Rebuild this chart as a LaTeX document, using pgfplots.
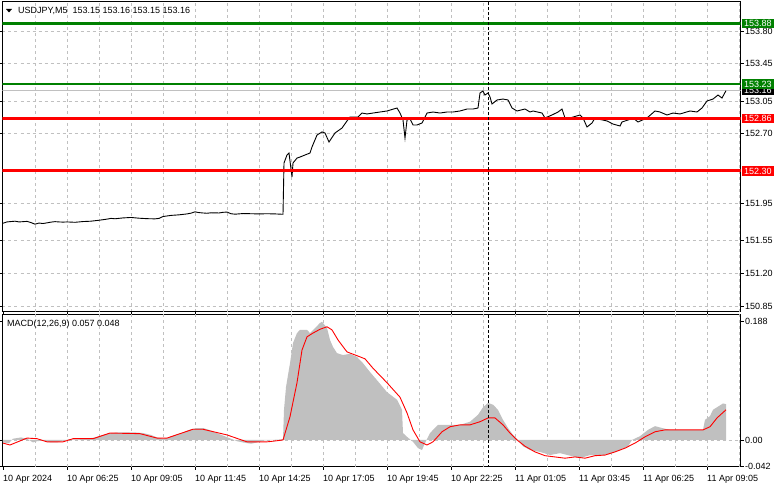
\documentclass[border=0pt]{standalone}
\usepackage{fontspec}
\setmainfont{Liberation Sans}
\usepackage{pgfplots}
\usepackage{pgfplotstable}
\pgfplotsset{compat=1.18}

\definecolor{gridc}{HTML}{C0C0C0}
\definecolor{mtgreen}{HTML}{008000}
\definecolor{mtred}{HTML}{FF0000}

% price, one row every few M5 bars (bar index, close)
\pgfplotstableread{
i v
0 151.738
2 151.752
4 151.756
6 151.760
8 151.752
10 151.755
12 151.758
14 151.745
16 151.728
18 151.740
20 151.735
22 151.742
24 151.750
26 151.755
28 151.752
30 151.750
32 151.752
34 151.750
36 151.748
38 151.752
40 151.756
44 151.760
48 151.770
52 151.782
54 151.790
56 151.786
60 151.795
64 151.800
66 151.796
68 151.792
72 151.787
76 151.785
78 151.790
80 151.810
84 151.822
88 151.828
92 151.838
94 151.846
96 151.860
98 151.852
100 151.848
102 151.845
104 151.850
108 151.848
110 151.855
112 151.858
114 151.840
116 151.835
120 151.842
124 151.840
128 151.838
132 151.840
136 151.838
140 151.834
140.5 152.384
142 152.470
143 152.491
144.5 152.234
145 152.384
147 152.437
148.5 152.448
151 152.470
153.5 152.491
154.5 152.556
157 152.684
159.5 152.717
161 152.706
163 152.609
166 152.706
169.5 152.759
172 152.835
173.5 152.877
177.5 152.877
179.5 152.920
182 152.910
185 152.920
188.5 152.931
192 152.942
197 152.974
198.5 152.920
200 152.845
201 152.652
202 152.845
203.5 152.856
205 152.792
207 152.792
209.5 152.813
212 152.920
215 152.931
218.5 152.920
222 152.931
225 152.931
228.5 152.942
232 152.963
235 152.963
237.5 152.974
238.5 153.135
240 153.156
241 153.113
242.5 153.135
243.5 153.092
244.5 153.017
247 153.060
250 153.070
252.5 153.060
254.5 152.974
257 152.942
261 152.963
263.5 152.931
265 152.942
269.5 152.920
271 152.867
274.5 152.899
277.5 152.931
279.5 152.963
281 152.867
283.5 152.867
285 152.877
288.5 152.899
290 152.867
292 152.770
294.5 152.813
296 152.867
297.5 152.856
302 152.835
305 152.802
308.5 152.781
309.5 152.824
312.5 152.845
315 152.867
317.5 152.824
322 152.867
326 152.942
328.5 152.931
332 152.899
335 152.920
338.5 152.910
343.5 152.942
347 152.931
349.5 152.974
352 153.049
355 153.070
357.5 153.113
359.5 153.081
361.5 153.160
}\price

% MACD histogram
\pgfplotstableread{
i h
0 -0.004
3 -0.005
5 0.002
7 0.003
9 0.004
12 0.002
15 -0.004
17 -0.002
20 -0.001
24 -0.004
27 -0.004
30 -0.001
33 0.001
38 0.001
42 0.002
46 0.004
50 0.008
54 0.011
58 0.012
62 0.012
66 0.012
70 0.011
74 0.008
77 0.004
80 0.002
83 0.004
86 0.008
90 0.012
94 0.017
97 0.019
100 0.019
103 0.016
106 0.012
110 0.007
114 0.002
117 -0.002
120 -0.004
124 -0.006
127 -0.004
130 -0.001
134 0.000
140 0.001
140.5 0.048
141.5 0.084
143.5 0.122
145 0.154
147 0.170
148.5 0.175
152 0.175
153.5 0.170
156 0.178
158.5 0.186
159.5 0.188
162 0.178
163.5 0.159
165 0.148
167 0.138
170 0.135
173.5 0.137
177 0.132
180 0.122
183.5 0.108
187 0.095
192 0.076
197 0.064
199.5 0.048
200 0.011
202 0.005
205 -0.003
207.5 -0.013
209.5 -0.016
211 -0.005
213.5 0.011
217.5 0.024
225 0.024
228.5 0.024
233.5 0.029
237.5 0.040
240 0.052
242.5 0.059
245 0.056
247.5 0.048
250 0.032
252.5 0.019
255 0.008
257.5 0.000
260 -0.010
263.5 -0.016
268.5 -0.019
273.5 -0.024
278.5 -0.021
283.5 -0.025
288.5 -0.029
293.5 -0.024
298.5 -0.025
303.5 -0.022
308.5 -0.016
312.5 -0.010
314.5 0.000
318.5 0.006
322.5 0.016
326 0.022
329.5 0.019
333.5 0.016
338.5 0.016
344 0.016
350 0.016
351 0.032
353.5 0.038
355 0.048
357 0.052
360 0.058
361.5 0.057
}\hist

% MACD signal line
\pgfplotstableread{
i s
0 -0.005
3.5 -0.008
12 0.003
17 0.002
22 -0.003
30 -0.003
35 0.002
45 0.002
53.5 0.011
68.5 0.010
77 0.003
82 0.003
95 0.017
100 0.017
112 0.008
122 -0.003
132 -0.003
135 -0.002
140 0.000
143.5 0.037
147 0.091
149.5 0.143
152 0.164
155 0.170
158.5 0.176
162 0.180
164.5 0.175
167.5 0.159
172 0.140
177 0.134
181 0.129
185 0.114
192 0.091
198.5 0.068
202 0.043
205 0.016
208.5 -0.003
212 -0.008
215 -0.003
219.5 0.013
223.5 0.021
228.5 0.024
233.5 0.024
238.5 0.029
242.5 0.035
246 0.035
250 0.024
253.5 0.011
257 0.000
261 -0.010
266 -0.019
271 -0.025
276 -0.027
281 -0.029
286 -0.027
291 -0.029
296 -0.025
301 -0.024
306 -0.019
311 -0.013
316 -0.005
321 0.005
326 0.013
331 0.016
338.5 0.016
350 0.016
353.5 0.021
357 0.035
361.5 0.048
}\signal

\pgfplotsset{mt/.style={
  scale only axis, width=738pt, anchor=south west,
  xmin=-0.25, xmax=368.75,
  axis line style={black, line width=1pt},
  tick align=outside,
  yticklabel pos=right,
  tick label style={font=\fontsize{9}{10}\selectfont, text=black},
  yticklabel style={anchor=west, inner sep=0pt, xshift=1.5pt},
  major tick length=3pt,
  tick style={black, line width=0.8pt},
  major grid style={gridc, dash pattern=on 3pt off 3pt, line width=0.7pt},
  extra x ticks={16,32,...,368},
  extra x tick labels={},
  extra x tick style={grid=major, major tick length=0pt},
}}

\begin{document}
\begin{tikzpicture}
\useasboundingbox (0pt,0pt) rectangle (781pt,489pt);

% price panel
\begin{axis}[mt, at={(2.5pt,177pt)}, height=310pt,
  ymin=150.786, ymax=154.111,
  xtick=\empty,
  ytick={150.85,151.20,151.55,151.95,152.70,153.05,153.45,153.80},
  yticklabels={150.85,151.20,151.55,151.95,152.70,153.05,153.45,153.80},
  ymajorgrids]
\addplot[gridc, line width=0.8pt] coordinates {(-1,153.16) (370,153.16)};
\addplot[black, line width=0.9pt] table[x=i, y=v] {\price};
\addplot[mtgreen, line width=3pt] coordinates {(-1,153.88) (370,153.88)};
\addplot[mtgreen, line width=2pt] coordinates {(-1,153.23) (370,153.23)};
\addplot[mtred, line width=3pt] coordinates {(-1,152.86) (370,152.86)};
\addplot[mtred, line width=3pt] coordinates {(-1,152.30) (370,152.30)};
\addplot[black, line width=0.8pt, dash pattern=on 3pt off 2pt] coordinates {(242.5,150) (242.5,155)};
\coordinate (g1) at (axis cs:368.75,153.88);
\coordinate (g2) at (axis cs:368.75,153.23);
\coordinate (r1) at (axis cs:368.75,152.86);
\coordinate (r2) at (axis cs:368.75,152.30);
\coordinate (cp) at (axis cs:368.75,153.16);
\end{axis}

% MACD panel
\begin{axis}[mt, at={(2.5pt,22pt)}, height=152.5pt,
  ymin=-0.043, ymax=0.1995,
  xtick={0,32,...,352},
  xticklabels={10 Apr 2024,10 Apr 06:25,10 Apr 09:05,10 Apr 11:45,10 Apr 14:25,10 Apr 17:05,10 Apr 19:45,10 Apr 22:25,11 Apr 01:05,11 Apr 03:45,11 Apr 06:25,11 Apr 09:05},
  xticklabel style={anchor=north west, inner sep=0pt, yshift=-5pt},
  ytick={0}, yticklabels={0.00}, ymajorgrids,
  extra y ticks={0.188,-0.042},
  extra y tick labels={0.188,-0.042},
  extra y tick style={grid=none}]
\addplot[fill=gridc, draw=none] table[x=i, y=h] {\hist} \closedcycle;
\addplot[mtred, line width=0.9pt] table[x=i, y=s] {\signal};
\addplot[black, line width=0.8pt, dash pattern=on 3pt off 2pt] coordinates {(242.5,-0.1) (242.5,0.3)};
\end{axis}

% right-hand price boxes
\tikzset{pbox/.style={anchor=west, text=white, inner xsep=2.5pt, inner ysep=1.5pt,
  text height=6.5pt, text depth=0pt, font=\fontsize{9}{10}\selectfont}}
\node[pbox, fill=black] at ([xshift=1pt]cp) {153.16};
\node[pbox, fill=mtgreen] at ([xshift=1pt]g1) {153.88};
\node[pbox, fill=mtgreen] at ([xshift=1pt]g2) {153.23};
\node[pbox, fill=mtred] at ([xshift=1pt]r1) {152.86};
\node[pbox, fill=mtred] at ([xshift=1pt]r2) {152.30};

% headers
\fill[black] (6pt,480pt) -- (12pt,480pt) -- (9pt,476.5pt) -- cycle;
\node[anchor=base west, inner sep=0pt, font=\fontsize{9}{10}\selectfont] at (18pt,475pt)
  {USDJPY,M5\ \ 153.15 153.16 153.15 153.16};
\node[anchor=base west, inner sep=0pt, font=\fontsize{9}{10}\selectfont] at (7pt,162pt)
  {MACD(12,26,9) 0.057 0.048};
\end{tikzpicture}
\end{document}
